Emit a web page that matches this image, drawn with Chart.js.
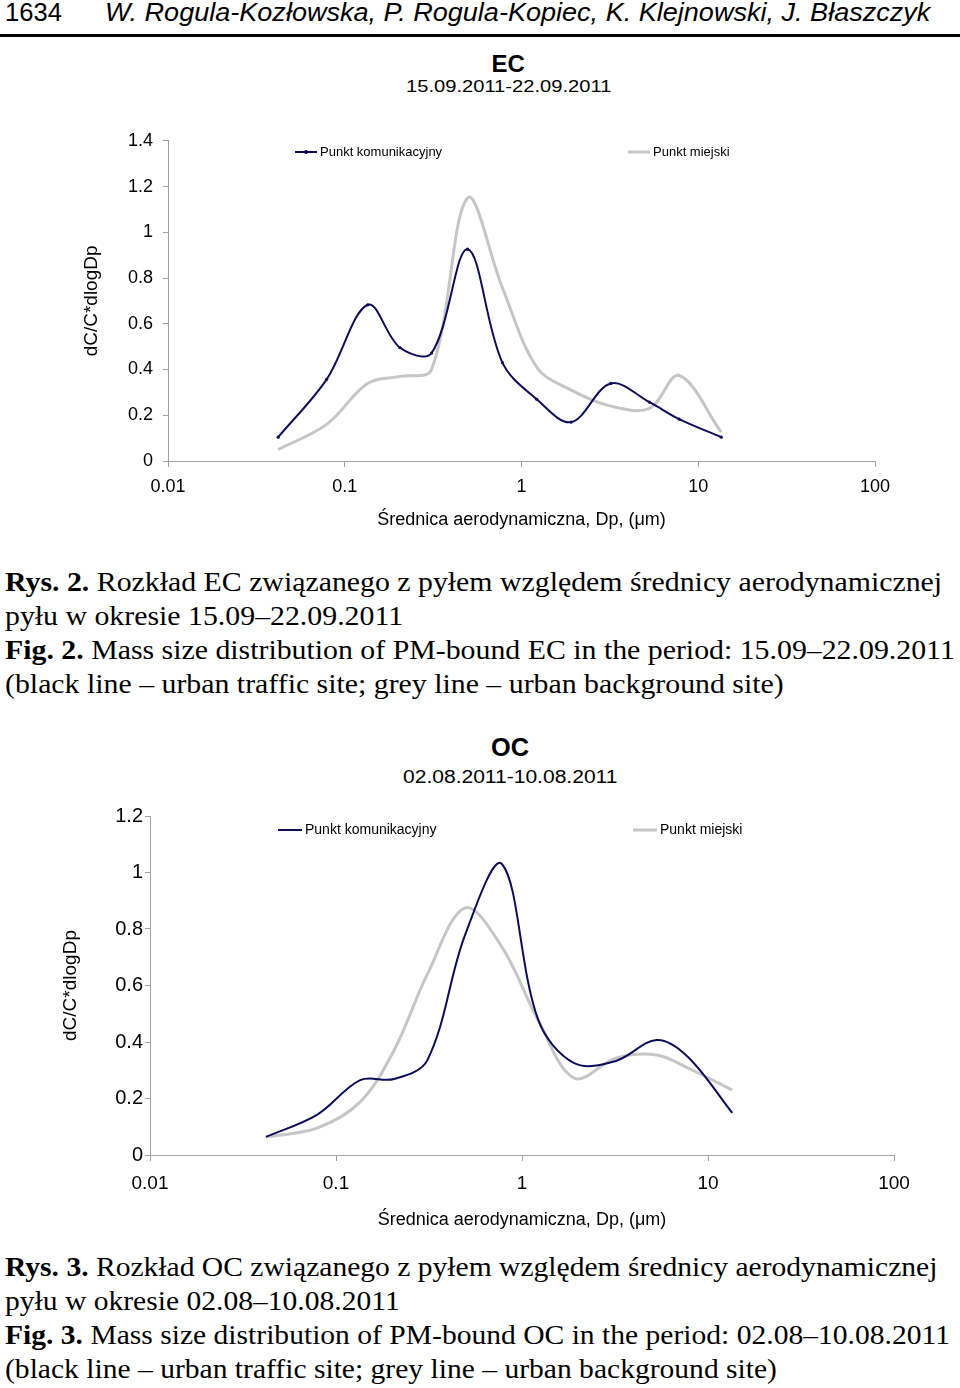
<!DOCTYPE html>
<html>
<head>
<meta charset="utf-8">
<script src="https://cdn.jsdelivr.net/npm/chart.js@4.4.0/dist/chart.umd.min.js"></script>
<style>
html, body { margin: 0; padding: 0; background: #fff; }
body { width: 960px; height: 1388px; position: relative; overflow: hidden; }
.t { position: absolute; white-space: nowrap; transform-origin: left top; color: #000; }
.sans { font-family: "Liberation Sans", Arial, sans-serif; }
.serif { font-family: "Liberation Serif", "Times New Roman", serif; font-size: 28px; }
.serif div { line-height: 34px; }
.box { position: absolute; left: 0; }
</style>
</head>
<body>

<div class="t sans" id="pg" style="top:-3px;font-size:26px;line-height:30px">1634</div>
<div class="t sans" id="au" style="top:-3px;font-size:26px;line-height:30px;font-style:italic">W. Rogula-Kozłowska, P. Rogula-Kopiec, K. Klejnowski, J. Błaszczyk</div>
<div style="position:absolute;left:0;top:34px;width:960px;height:3px;background:#000"></div>

<div class="t sans" id="ecT" style="top:50px;font-size:24px;line-height:28px;font-weight:bold">EC</div>
<div class="t sans" id="ecD" style="top:77px;font-size:17px;line-height:20px">15.09.2011-22.09.2011</div>
<div class="box" style="top:120px"><canvas id="ec" width="960" height="411"></canvas></div>

<div class="t serif" id="cap1" style="top:565px">
  <div><b>Rys. 2.</b> Rozkład EC związanego z pyłem względem średnicy aerodynamicznej</div>
  <div>pyłu w okresie 15.09–22.09.2011</div>
  <div><b>Fig. 2.</b> Mass size distribution of PM-bound EC in the period: 15.09–22.09.2011</div>
  <div>(black line – urban traffic site; grey line – urban background site)</div>
</div>

<div class="t sans" id="ocT" style="top:732px;font-size:26px;line-height:30px;font-weight:bold">OC</div>
<div class="t sans" id="ocD" style="top:767px;font-size:18px;line-height:21px">02.08.2011-10.08.2011</div>
<div class="box" style="top:800px"><canvas id="oc" width="960" height="431"></canvas></div>

<div class="t serif" id="cap2" style="top:1250px">
  <div><b>Rys. 3.</b> Rozkład OC związanego z pyłem względem średnicy aerodynamicznej</div>
  <div>pyłu w okresie 02.08–10.08.2011</div>
  <div><b>Fig. 3.</b> Mass size distribution of PM-bound OC in the period: 02.08–10.08.2011</div>
  <div>(black line – urban traffic site; grey line – urban background site)</div>
</div>

<script>
// particle diameter (um), stage midpoints
const sizes = [0.042, 0.079, 0.135, 0.205, 0.31, 0.495, 0.78, 1.22, 1.91, 3.2, 5.3, 7.8, 13.5];

// EC, 15.09-22.09.2011
const ecTraffic = [0.104, 0.357, 0.683, 0.496, 0.472, 0.926, 0.43, 0.27, 0.17, 0.339, 0.257, 0.183, 0.104];
const ecUrban   = [0.05, 0.16, 0.34, 0.37, 0.40, 1.15, 0.757, 0.41, 0.31, 0.24, 0.23, 0.374, 0.126];

// OC, 02.08-10.08.2011
const ocTraffic = [0.064, 0.142, 0.265, 0.269, 0.336, 0.78, 1.03, 0.48, 0.325, 0.333, 0.407, 0.347, 0.149];
const ocUrban   = [0.064, 0.095, 0.188, 0.37, 0.64, 0.875, 0.736, 0.478, 0.272, 0.343, 0.354, 0.308, 0.23];

const xTicks = [0.01, 0.1, 1, 10, 100];
const ecYTicks = [0, 0.2, 0.4, 0.6, 0.8, 1, 1.2, 1.4];
const ocYTicks = [0, 0.2, 0.4, 0.6, 0.8, 1, 1.2];

const seriesNames = ['Punkt komunikacyjny', 'Punkt miejski'];
const xTitle = 'Średnica aerodynamiczna, Dp, (μm)';
const yTitle = 'dC/C*dlogDp';

const NAVY = '#0c0c5c';
const GREY = '#c6c6c6';
const AXIS = '#a0a0a0';
const FONT = '"Liberation Sans", Arial, sans-serif';

// fit html text to the widths seen on the page
function fit(id, x, w, centered) {
    const el = document.getElementById(id);
    const k = w / el.offsetWidth;
    el.style.left = (centered ? x - w / 2 : x) + 'px';
    el.style.transform = 'scaleX(' + k + ')';
}
fit('pg', 5, 57);
fit('au', 105, 825);
fit('ecT', 508, 33, true);
fit('ecD', 508, 205, true);
fit('cap1', 5, 950);
fit('ocT', 510, 38, true);
fit('ocD', 510, 215, true);
fit('cap2', 5, 945);

// Excel style legend sitting inside the plot
const insideLegend = {
    id: 'insideLegend',
    afterDraw(chart, args, opts) {
        const ctx = chart.ctx;
        ctx.save();
        ctx.font = opts.size + 'px ' + FONT;
        ctx.textBaseline = 'middle';
        chart.data.datasets.forEach((ds, i) => {
            const x = opts.x[i];
            ctx.strokeStyle = ds.borderColor;
            ctx.lineWidth = ds.borderWidth;
            ctx.beginPath();
            ctx.moveTo(x, opts.y);
            ctx.lineTo(x + opts.line, opts.y);
            ctx.stroke();
            if (ds.pointRadius > 0) {
                ctx.fillStyle = ds.borderColor;
                ctx.beginPath();
                ctx.arc(x + opts.line / 2, opts.y, ds.pointRadius + 0.4, 0, Math.PI * 2);
                ctx.fill();
            }
            ctx.fillStyle = '#000';
            ctx.fillText(ds.label, x + opts.line + 3, opts.y);
        });
        ctx.restore();
    }
};

function makeChart(id, traffic, urban, yTicks, lay) {
    const pts = arr => sizes.map((x, i) => ({ x: x, y: arr[i] }));
    return new Chart(document.getElementById(id), {
        type: 'line',
        data: {
            datasets: [{
                label: seriesNames[0],
                data: pts(traffic),
                borderColor: NAVY,
                borderWidth: 2,
                pointRadius: lay.dots,
                pointBackgroundColor: NAVY,
                pointBorderWidth: 0,
                tension: 0.35
            }, {
                label: seriesNames[1],
                data: pts(urban),
                borderColor: GREY,
                borderWidth: 3,
                pointRadius: 0,
                tension: 0.35
            }]
        },
        options: {
            responsive: false,
            animation: false,
            events: [],
            layout: { padding: lay.padding },
            plugins: {
                legend: { display: false },
                tooltip: { enabled: false },
                insideLegend: lay.legend
            },
            scales: {
                x: {
                    type: 'logarithmic',
                    min: 0.01,
                    max: 100,
                    afterBuildTicks: s => { s.ticks = xTicks.map(v => ({ value: v })); },
                    afterFit: s => { s.height = lay.xHeight; },
                    grid: { drawOnChartArea: false, tickLength: 6, color: AXIS },
                    border: { color: AXIS },
                    ticks: {
                        color: '#000',
                        font: { family: FONT, size: lay.xTickSize },
                        padding: lay.xTickPad,
                        maxRotation: 0,
                        autoSkip: false,
                        callback: v => String(v)
                    },
                    title: {
                        display: true,
                        text: xTitle,
                        color: '#000',
                        font: { family: FONT, size: 18 },
                        padding: { top: 0, bottom: 0 }
                    }
                },
                y: {
                    min: 0,
                    max: yTicks[yTicks.length - 1],
                    afterBuildTicks: s => { s.ticks = yTicks.map(v => ({ value: v })); },
                    afterFit: s => { s.width = lay.yWidth; },
                    grid: { drawOnChartArea: false, tickLength: 5, color: AXIS },
                    border: { color: AXIS },
                    ticks: {
                        color: '#000',
                        font: { family: FONT, size: lay.yTickSize },
                        padding: lay.yTickPad,
                        callback: v => String(+v.toFixed(1))
                    },
                    title: {
                        display: true,
                        text: yTitle,
                        color: '#000',
                        font: { family: FONT, size: 19 },
                        padding: { top: lay.yTitlePad, bottom: 0 }
                    }
                }
            }
        },
        plugins: [insideLegend]
    });
}

makeChart('ec', ecTraffic, ecUrban, ecYTicks, {
    padding: { top: 20, left: 70, right: 85, bottom: 0 },
    yWidth: 98, xHeight: 70,
    xTickSize: 18, xTickPad: 9, yTickSize: 18, yTickPad: 10, yTitlePad: 10.6,
    dots: 1.6,
    legend: { x: [295, 628], y: 32, line: 22, size: 13 }
});

makeChart('oc', ocTraffic, ocUrban, ocYTicks, {
    padding: { top: 16, left: 50, right: 66, bottom: 0 },
    yWidth: 100, xHeight: 76,
    xTickSize: 19, xTickPad: 11, yTickSize: 20, yTickPad: 2, yTitlePad: 9.6,
    dots: 0,
    legend: { x: [278, 633], y: 30, line: 24, size: 14 }
});
</script>
</body>
</html>
